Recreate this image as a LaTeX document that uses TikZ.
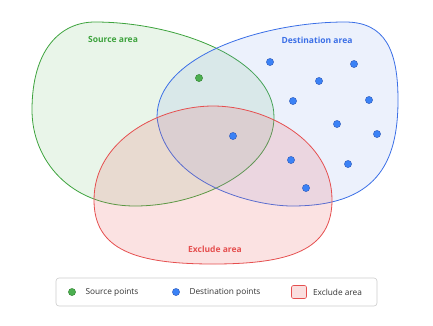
\documentclass[tikz,border=0pt]{standalone}
\usepackage{fontspec}
\setmainfont{Open Sans}
\usetikzlibrary{positioning}
\definecolor{srcgreen}{HTML}{3DA33D}
\definecolor{dstblue}{HTML}{3B6FE6}
\definecolor{excred}{HTML}{E54F4F}
\definecolor{dotblue}{HTML}{3B82F6}
\definecolor{dotgreen}{HTML}{4CAF50}
\tikzset{
  area/.style={line width=0.8pt, fill opacity=0.14},
  arealabel/.style={font=\bfseries\fontsize{8.5}{10}\selectfont},
  legtext/.style={font=\fontsize{8.3}{10}\selectfont, anchor=west, text=black!80},
}
\begin{document}
\begin{tikzpicture}[x=1pt, y=-1pt]
    % Fundo e limites da figura
    \useasboundingbox (0,0) rectangle (433,325);

    % Source area
    \draw[area, draw=srcgreen, fill=srcgreen!80] (32,110)
      .. controls (32,50) and (60,22) .. (95,22)
      .. controls (175,22) and (274,58) .. (274,117)
      .. controls (274,170) and (200,206) .. (135,206)
      .. controls (70,206) and (32,160) .. cycle;

    % Destination area
    \draw[area, draw=dstblue, fill=dstblue!70] (157,117)
      .. controls (157,55) and (265,22) .. (345,22)
      .. controls (385,22) and (398,50) .. (398,100)
      .. controls (398,165) and (375,206) .. (292,206)
      .. controls (255,206) and (165,185) .. cycle;

    % Exclude area
    \draw[area, draw=excred, fill=excred!90, fill opacity=0.18] (94,200)
      .. controls (94,140) and (160,106) .. (213,106)
      .. controls (266,106) and (332,140) .. (332,200)
      .. controls (332,250) and (290,264) .. (213,264)
      .. controls (136,264) and (94,250) .. cycle;

    % Rótulos das áreas
    \node[arealabel, text=srcgreen] (srclabel) at (113,39) {Source area};
    \node[arealabel, text=dstblue] (dstlabel) at (317,40) {Destination area};
    \node[arealabel, text=excred] (exclabel) at (215,249) {Exclude area};

    % Ponto de origem
    \filldraw[fill=dotgreen, draw=srcgreen!80!black] (199,78) circle (3.6);

    % Pontos de destino
    \foreach \x/\y in {270/62, 354/64, 319/81, 293/101, 369/100, 337/124,
                       377/134, 233/136, 291/160, 348/164, 306/188} {
      \filldraw[fill=dotblue, draw=dstblue!80!black] (\x,\y) circle (3.6);
    }

    % Legenda
    \node[draw=black!20, fill=white, rounded corners=3pt, minimum width=321, minimum height=28, line width=0.6pt] (legend) at (216.5,292) {};
    \filldraw[fill=dotgreen, draw=srcgreen!80!black] (72,292) circle (3.6);
    \node[legtext] (legsrc) at (82,292) {Source points};
    \filldraw[fill=dotblue, draw=dstblue!80!black] (176,292) circle (3.6);
    \node[legtext] (legdst) at (186,292) {Destination points};
    \node[draw=excred, fill=excred!18, rounded corners=2pt, minimum width=15, minimum height=13, inner sep=0, line width=0.6pt] (legbox) at (299,292) {};
    \node[legtext, right=6pt of legbox, inner sep=0] (legexc) {Exclude area};
  \end{tikzpicture}
\end{document}
